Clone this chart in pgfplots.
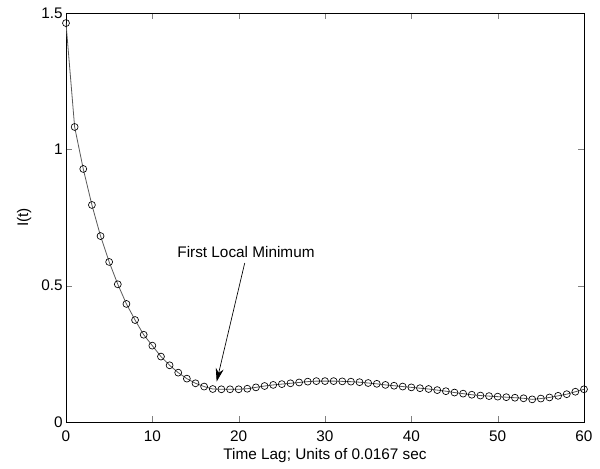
\documentclass[border=0pt]{standalone}
\usepackage{pgfplots}
\pgfplotsset{compat=1.18}
\usepackage{fontspec}
\setmainfont{Liberation Sans}
\usetikzlibrary{arrows.meta}
\begin{document}
\begin{tikzpicture}
\begin{axis}[
    scale only axis, width=388.5pt, height=306.75pt,
    xmin=0, xmax=60, ymin=0, ymax=1.5,
    xtick={0,10,...,60}, ytick={0,0.5,1,1.5},
    tick align=inside, tick pos=both,
    major tick length=4.5pt,
    axis line style={line width=0.5pt},
    font=\fontsize{11.5}{12}\selectfont,
    /pgf/number format/assume math mode=true,
    yticklabel style={/pgf/number format/fixed, xshift=1pt},
    xticklabel style={yshift=-3pt},
    xlabel={Time Lag; Units of 0.0167 sec},
    ylabel={I(t)},
    xlabel style={at={(axis description cs:0.5,-0.081)}, anchor=center},
    ylabel style={at={(axis description cs:-0.081,0.5)}, anchor=center},
]
\addplot[gray!70!black, line width=0.6pt, mark=o,
    mark options={black, line width=0.5pt, scale=1.3}] coordinates {
(0,1.463) (1,1.082) (2,0.928) (3,0.796) (4,0.682) (5,0.587)
(6,0.505) (7,0.433) (8,0.374) (9,0.320) (10,0.280) (11,0.240)
(12,0.208) (13,0.181) (14,0.159) (15,0.142) (16,0.130) (17,0.121)
(18,0.120) (19,0.120) (20,0.120) (21,0.122) (22,0.127) (23,0.132)
(24,0.136) (25,0.139) (26,0.142) (27,0.145) (28,0.148) (29,0.150)
(30,0.150) (31,0.150) (32,0.149) (33,0.148) (34,0.146) (35,0.143)
(36,0.140) (37,0.136) (38,0.133) (39,0.130) (40,0.127) (41,0.124)
(42,0.121) (43,0.117) (44,0.113) (45,0.108) (46,0.104) (47,0.100)
(48,0.097) (49,0.095) (50,0.093) (51,0.091) (52,0.089) (53,0.087)
(54,0.083) (55,0.086) (56,0.090) (57,0.096) (58,0.102) (59,0.111)
(60,0.120)};
\node at (axis cs:20.85,0.623) {First Local Minimum};
\draw[-{Stealth[length=10pt,width=6pt]}, line width=0.5pt]
    (axis cs:20.7,0.583) -- (axis cs:17.45,0.148);
\end{axis}
\pgfresetboundingbox
\path[use as bounding box] (-49.5pt,-34.5pt) rectangle (400.5pt,316.5pt);
\end{tikzpicture}
\end{document}
